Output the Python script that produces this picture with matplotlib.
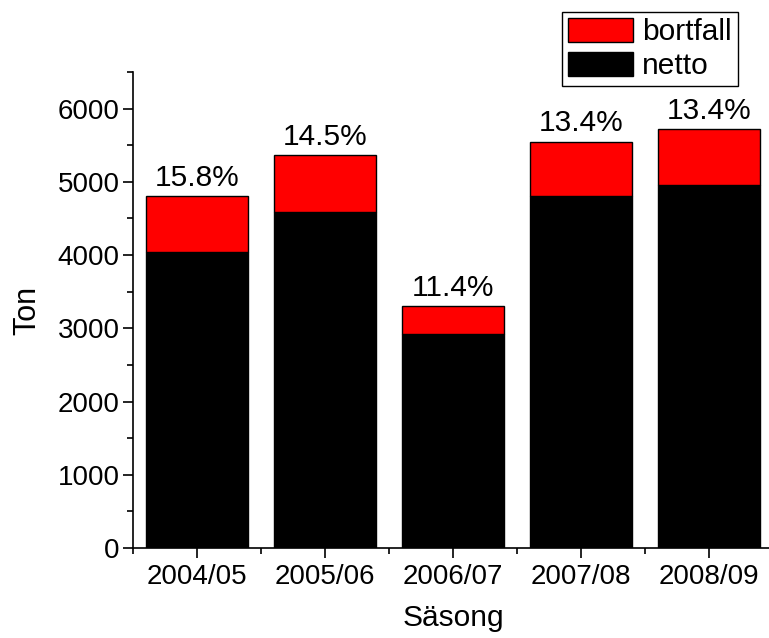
import matplotlib
matplotlib.use("Agg")
import matplotlib.pyplot as plt
import matplotlib.patches as mpatches
import numpy as np
from matplotlib.ticker import MultipleLocator

plt.rcParams["font.family"] = ["Liberation Sans", "DejaVu Sans"]

# Data
seasons  = ["2004/05", "2005/06", "2006/07", "2007/08", "2008/09"]
netto    = [4045, 4583, 2924, 4812, 4954]
total    = [4805, 5360, 3300, 5550, 5720]
pct_text = ["15.8%", "14.5%", "11.4%", "13.4%", "13.4%"]

bortfall = [t - n for t, n in zip(total, netto)]
x = np.arange(len(seasons))

fig = plt.figure(figsize=(7.69, 6.38), dpi=100)
ax = fig.add_axes([133 / 769, 90 / 638, 640 / 769, 476 / 638])

ax.bar(x, netto, 0.8, color="black", edgecolor="black", linewidth=1)
ax.bar(x, bortfall, 0.8, bottom=netto, color="#ff0000",
       edgecolor="black", linewidth=1)

for xi, top, txt in zip(x, total, pct_text):
    ax.annotate(txt, (xi, top), xytext=(0, 3), textcoords="offset points",
                ha="center", va="bottom", fontsize=21.5)

ax.set_xlim(-0.5, 4.5)
ax.set_ylim(0, 6500)
ax.set_xticks(x)
ax.set_xticklabels(seasons)
ax.xaxis.set_minor_locator(MultipleLocator(1, offset=0.5))
ax.yaxis.set_major_locator(MultipleLocator(1000))
ax.yaxis.set_minor_locator(MultipleLocator(500))

for s in ["top", "right"]:
    ax.spines[s].set_visible(False)
for s in ["left", "bottom"]:
    ax.spines[s].set_linewidth(1.2)

ax.tick_params(which="major", direction="out", length=7.5, width=1.2,
               labelsize=20, pad=2)
ax.tick_params(axis="x", which="major", pad=4)
ax.tick_params(which="minor", direction="out", length=4, width=1.2)

ax.set_ylabel("Ton", fontsize=22, labelpad=11)
ax.set_xlabel("Säsong", fontsize=21.5, labelpad=10)

handles = [
    mpatches.Patch(facecolor="#ff0000", edgecolor="black", label="bortfall"),
    mpatches.Patch(facecolor="black", edgecolor="black", label="netto"),
]
leg = fig.legend(handles=handles, loc="upper right",
                 bbox_to_anchor=(738 / 769, 1 - 12 / 638),
                 fontsize=21.5, frameon=True, fancybox=False,
                 edgecolor="black", framealpha=1,
                 handlelength=2.2, handleheight=0.85,
                 borderpad=0.2, labelspacing=0.2, handletextpad=0.3,
                 borderaxespad=0)
leg.get_frame().set_linewidth(1)

fig.savefig("out.png", dpi=100)
